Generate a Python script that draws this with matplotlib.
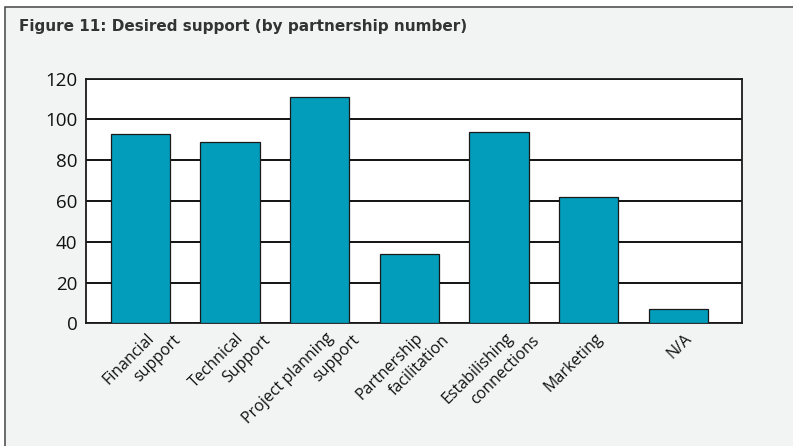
import matplotlib
matplotlib.use("Agg")
import matplotlib.pyplot as plt
from matplotlib.patches import Rectangle

# Desired support, counted by partnership
categories = ["Financial\nsupport", "Technical\nSupport", "Project planning\nsupport",
              "Partnership\nfacilitation", "Estabilishing\nconnections", "Marketing", "N/A"]
counts = [93, 89, 111, 34, 94, 62, 7]
yticks = [0, 20, 40, 60, 80, 100, 120]

title = "Figure 11: Desired support (by partnership number)"
bar_color = "#019DBB"
panel_color = "#F2F4F4"

W, H = 793, 446
fig = plt.figure(figsize=(W / 100, H / 100), dpi=100, facecolor="white")

# grey panel with a frame on left and top (the other edges run off the page)
top = 1 - 6.7 / H
panel = Rectangle((4.5 / W, -0.1), 1.2, top + 0.1, transform=fig.transFigure,
                  facecolor=panel_color, edgecolor="#444444", linewidth=1.1, zorder=-5)
fig.patches.append(panel)

fig.text(19 / W, 1 - 27 / H, title, fontsize=11, fontweight="bold",
         color="#333333", va="center", ha="left", family="DejaVu Sans")

ax = fig.add_axes([85.7 / W, 1 - 323.3 / H, (742 - 85.7) / W, (323.3 - 78.5) / H])
ax.set_facecolor("white")

x = list(range(len(categories)))
ax.bar(x, counts, width=0.66, color=bar_color, edgecolor="#1a1a1a",
       linewidth=0.9, zorder=3)

ax.set_ylim(0, 120)
ax.set_xlim(-0.61, 6.71)
ax.set_yticks(yticks)
ax.yaxis.grid(True, color="black", linewidth=1.3, zorder=1)
ax.set_axisbelow(True)
for s in ax.spines.values():
    s.set_linewidth(1.3)
    s.set_color("#1a1a1a")
ax.tick_params(axis="y", length=0, pad=6, labelsize=13.5, colors="#111111")
ax.tick_params(axis="x", length=0)
for lbl in ax.get_yticklabels():
    lbl.set_family("Open Sans")

ax.set_xticks(x)
ax.set_xticklabels([])

# rotated category labels, one text per line; each line's end sits just
# right of the bar, the second line stepped further right below the first
line_offsets = [(4, -5), (23, -6.5)]
for xi, name in zip(x, categories):
    for line, (dx, dy) in zip(name.split("\n"), line_offsets):
        ax.annotate(line, xy=(xi, 0), xycoords=("data", "axes fraction"),
                    xytext=(dx, dy), textcoords="offset points",
                    rotation=45, rotation_mode="anchor", ha="right", va="top",
                    fontsize=11.5, family="Open Sans", color="#111111")

fig.savefig("out.png", dpi=100, facecolor=fig.get_facecolor())
